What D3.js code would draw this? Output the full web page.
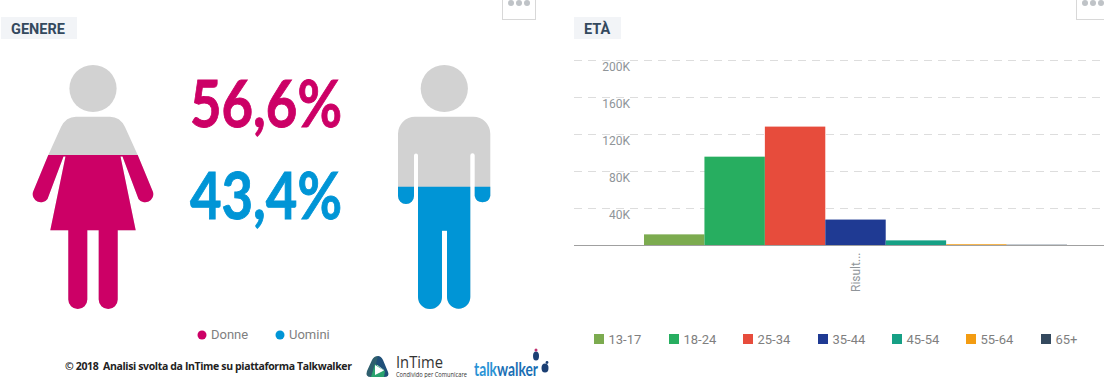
<!DOCTYPE html>
<html>
<head>
<meta charset="utf-8">
<script src="https://cdnjs.cloudflare.com/ajax/libs/d3/7.8.5/d3.min.js"></script>
<style>
html, body { margin: 0; padding: 0; background: #fff; }
svg { display: block; font-family: Roboto, sans-serif; }
</style>
</head>
<body>
<div id="chart"></div>
<script>
// genere
const genderLabels = ['Donne', 'Uomini'];
const genderValues = ['56,6%', '43,4%'];
const genderColors = ['#cc0066', '#0095d6'];

// età
const ageGroups = ['13-17', '18-24', '25-34', '35-44', '45-54', '55-64', '65+'];
const ageValues = [11500, 95500, 128000, 27500, 5000, 800, 300];
const ageColors = ['#7cab4f', '#27ae60', '#e74c3c', '#1f3a93', '#16a085', '#f39c12', '#34495e'];
const ageTicks = [40000, 80000, 120000, 160000, 200000];
const groupLabels = ['Risult...'];

const width = 1104;
const height = 378;

const svg = d3.select('#chart').append('svg')
    .attr('width', width)
    .attr('height', height);

const defs = svg.append('defs');

// titolo con sfondo grigio
function drawHeader(x, w, label) {
    svg.append('rect')
        .attr('x', x).attr('y', 17)
        .attr('width', w).attr('height', 22)
        .attr('fill', '#f2f4f7');
    svg.append('text')
        .attr('x', x + 10).attr('y', 34)
        .attr('fill', '#34495e')
        .style('font-size', '14.5px')
        .style('font-weight', 'bold')
        .text(label);
}

// bottone con i tre puntini
function drawMenu(x) {
    svg.append('rect')
        .attr('x', x + 0.5).attr('y', -5)
        .attr('width', 33).attr('height', 24.5)
        .attr('fill', '#fff')
        .attr('stroke', '#d8d8d8');
    svg.selectAll(null)
        .data([9, 17, 25])
        .join('circle')
        .attr('cx', d => x + d)
        .attr('cy', 3)
        .attr('r', 3)
        .attr('fill', '#bfc3c7');
}

drawHeader(1, 76, 'GENERE');
drawHeader(574, 47, 'ETÀ');
drawMenu(502);
drawMenu(1076);

// sagome: parte grigia sotto, parte colorata ritagliata dal livello
const womanBody = 'M76,116.7 H110 Q120,116.7 125,127 L137.7,155 L153,192 A8.2,8.2 0 0 1 138.5,199 L122.5,156.5 L120.5,156.5 L135.7,230.3 H117.7 V299.5 A9.5,9.5 0 0 1 98.7,299.5 V230.3 H87.3 V299.5 A9.5,9.5 0 0 1 68.3,299.5 V230.3 H50.3 L65.5,156.5 L63.5,156.5 L47.5,199 A8.2,8.2 0 0 1 33,192 L48.3,155 L61,127 Q66,116.7 76,116.7 Z';
const manBody = 'M415,116.7 H473.3 A17,17 0 0 1 490.3,133.7 V196 A8,8 0 0 1 474.7,196 V155.5 A2.2,2.2 0 0 0 470.3,155.5 V297 A11.6,11.6 0 0 1 447,297 V230.7 H442 V297 A12,12 0 0 1 418,297 V155.5 A2,2 0 0 0 414,155.5 V196 A8,8 0 0 1 398,196 V133.7 A17,17 0 0 1 415,116.7 Z';

function drawFigure(id, headX, path, fillTop, color) {
    defs.append('clipPath').attr('id', id)
        .append('rect')
        .attr('x', 0).attr('y', fillTop)
        .attr('width', 560).attr('height', 320 - fillTop);
    const g = svg.append('g');
    g.append('circle')
        .attr('cx', headX).attr('cy', 88.5).attr('r', 23.6)
        .attr('fill', '#d2d2d2');
    g.append('path').attr('d', path).attr('fill', '#d2d2d2');
    g.append('path').attr('d', path).attr('fill', color)
        .attr('clip-path', `url(#${id})`);
}

drawFigure('clip-donne', 93, womanBody, 155, genderColors[0]);
drawFigure('clip-uomini', 444.3, manBody, 186.7, genderColors[1]);

// percentuali
svg.selectAll('text.pct')
    .data(genderValues)
    .join('text')
    .attr('class', 'pct')
    .attr('x', 190)
    .attr('y', (d, i) => i === 0 ? 127 : 219)
    .attr('textLength', 152)
    .attr('lengthAdjust', 'spacingAndGlyphs')
    .attr('fill', (d, i) => genderColors[i])
    .attr('stroke', (d, i) => genderColors[i])
    .attr('stroke-width', 0.9)
    .style('font-family', 'Lato, sans-serif')
    .style('font-weight', 'bold')
    .style('font-size', '65px')
    .text(d => d);

// legenda genere
const genderLegendX = [202, 280];
const genderLegend = svg.selectAll('g.gender-legend')
    .data(genderLabels)
    .join('g')
    .attr('class', 'gender-legend')
    .attr('transform', (d, i) => `translate(${genderLegendX[i]},335)`);
genderLegend.append('circle')
    .attr('r', 4.5)
    .attr('fill', (d, i) => genderColors[i]);
genderLegend.append('text')
    .attr('x', 9).attr('y', 4)
    .attr('fill', '#7f7f7f')
    .style('font-size', '13px')
    .text(d => d);

// grafico età
const x0 = d3.scaleBand()
    .domain(groupLabels)
    .range([607, 1104])
    .paddingOuter(0.0875);

const x1 = d3.scaleBand()
    .domain(ageGroups)
    .range([x0(groupLabels[0]), x0(groupLabels[0]) + x0.bandwidth()]);

const y = d3.scaleLinear()
    .domain([0, 200000])
    .range([245, 60]);

// griglia tratteggiata
svg.append('g')
    .selectAll('line')
    .data(ageTicks)
    .join('line')
    .attr('x1', 574).attr('x2', 1104)
    .attr('y1', d => y(d) + 0.5).attr('y2', d => y(d) + 0.5)
    .attr('stroke', '#d4d4d4')
    .attr('stroke-width', 0.8)
    .attr('stroke-dasharray', '8,6');

// etichette asse y sotto la griglia
const yAxis = svg.append('g')
    .attr('transform', 'translate(630,0)')
    .call(d3.axisLeft(y).tickValues(ageTicks).tickSize(0).tickPadding(0)
        .tickFormat(d => `${d / 1000}K`));
yAxis.select('.domain').remove();
yAxis.selectAll('text')
    .attr('dy', '0.87em')
    .attr('fill', '#8f9599')
    .style('font-family', 'Roboto, sans-serif')
    .style('font-size', '12px');

svg.append('g')
    .selectAll('rect')
    .data(ageValues)
    .join('rect')
    .attr('x', (d, i) => x1(ageGroups[i]))
    .attr('y', d => y(d))
    .attr('width', x1.bandwidth())
    .attr('height', d => y(0) - y(d))
    .attr('fill', (d, i) => ageColors[i]);

svg.append('line')
    .attr('x1', 574).attr('x2', 1104)
    .attr('y1', y(0) + 0.5).attr('y2', y(0) + 0.5)
    .attr('stroke', '#a0a0a0');

svg.append('text')
    .attr('transform', `translate(${x0(groupLabels[0]) + x0.bandwidth() / 2 + 4},292) rotate(-90)`)
    .attr('fill', '#8f9599')
    .style('font-size', '12px')
    .text(groupLabels[0]);

// legenda età
const ageLegendX = [594, 669, 743, 818, 892, 966, 1041];
const ageLegend = svg.selectAll('g.age-legend')
    .data(ageGroups)
    .join('g')
    .attr('class', 'age-legend')
    .attr('transform', (d, i) => `translate(${ageLegendX[i]},334)`);
ageLegend.append('rect')
    .attr('width', 10).attr('height', 10)
    .attr('fill', (d, i) => ageColors[i]);
ageLegend.append('text')
    .attr('x', 14.5).attr('y', 10)
    .attr('fill', '#7f7f7f')
    .style('font-size', '13px')
    .text(d => d);

// piede con crediti e loghi
svg.append('text')
    .attr('x', 65).attr('y', 370)
    .attr('xml:space', 'preserve')
    .attr('textLength', 287)
    .attr('fill', '#222')
    .style('font-family', '"Open Sans", sans-serif')
    .style('font-weight', 'bold')
    .style('font-size', '10.5px')
    .text('© 2018  Analisi svolta da InTime su piattaforma Talkwalker');

const logo = svg.append('g');
logo.append('path').attr('d', 'M378,356 Q374,356 372,360 L367,371 Q365,377 371,377 L374,377 L376,366 L382,362 Z').attr('fill', '#2f5f6e');
logo.append('path').attr('d', 'M378,356 Q381,356 383,360 L388,372 Q390,377 384,377 L379,377 L384,370 L376,364 Z').attr('fill', '#1f4f78');
logo.append('path').attr('d', 'M371,377 L384,377 L385,371 L375,364 Z').attr('fill', '#2aa36f');
logo.append('path').attr('d', 'M375,365 L384,370.5 L375,375 Z').attr('fill', '#fff');
logo.append('text')
    .attr('x', 396).attr('y', 368)
    .attr('textLength', 47)
    .attr('lengthAdjust', 'spacingAndGlyphs')
    .attr('fill', '#333')
    .style('font-family', '"Open Sans", sans-serif')
    .style('font-size', '15.5px')
    .text('InTime');
logo.append('text')
    .attr('x', 396).attr('y', 376.5)
    .attr('textLength', 71)
    .attr('lengthAdjust', 'spacingAndGlyphs')
    .attr('fill', '#333')
    .style('font-family', '"Open Sans", sans-serif')
    .style('font-size', '6.5px')
    .text('Condivido per Comunicare');
const brand = logo.append('text')
    .attr('x', 474).attr('y', 375.5)
    .attr('textLength', 64)
    .attr('lengthAdjust', 'spacingAndGlyphs')
    .style('font-family', 'Lato, sans-serif')
    .style('font-weight', 'bold')
    .style('font-size', '18.5px');
brand.append('tspan').attr('fill', '#2a93d5').text('talk');
brand.append('tspan').attr('fill', '#1b6fb5').text('walker');
logo.append('ellipse').attr('cx', 536).attr('cy', 356).attr('rx', 3).attr('ry', 4.5).attr('fill', '#1b3f73');
logo.append('circle').attr('cx', 536).attr('cy', 350).attr('r', 1.5).attr('fill', '#c0306e');
logo.append('ellipse').attr('cx', 545).attr('cy', 368).attr('rx', 3.5).attr('ry', 4.5).attr('fill', '#1b3f73');
logo.append('circle').attr('cx', 547).attr('cy', 362.5).attr('r', 1.4).attr('fill', '#1b3f73');
</script>
</body>
</html>
